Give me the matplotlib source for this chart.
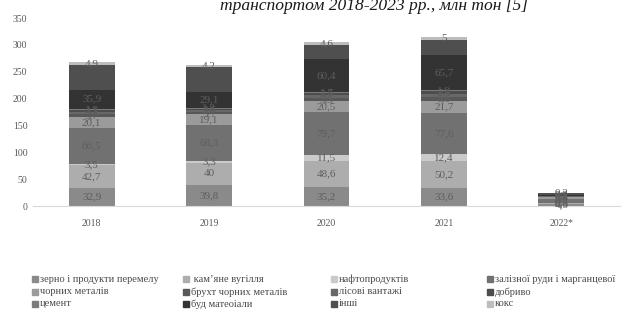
import matplotlib
matplotlib.use("Agg")
import matplotlib.pyplot as plt
from matplotlib.patches import Rectangle

plt.rcParams['font.family'] = ['Liberation Serif', 'DejaVu Serif']

years = ['2018', '2019', '2020', '2021', '2022*']

cargo = ['зерно і продукти перемелу', ' кам\u02bcяне вугілля', 'нафтопродуктів',
         'залізної руди і марганцевої', 'чорних металів', 'брухт чорних металів',
         'лісові вантажі', 'добриво', 'цемент', 'буд матеоіали', 'інші', 'кокс']

grain = [32.9, 39.8, 35.2, 33.6, 4.5]
coal = [42.7, 40, 48.6, 50.2, 0.6]
oil = [3.5, 3.3, 11.5, 12.4, 0.5]
ore = [66.5, 68.3, 79.7, 77.6, 8.2]
metals = [20.1, 19.1, 20.5, 21.7, 2.4]
scrap = [5.7, 3.7, 5.3, 6.6, 1.1]
timber = [3.4, 4.4, 6.4, 6.2, 0.4]
fertil = [4.1, 2.6, 3.6, 5.8, 1.0]
cement = [1.9, 1.8, 1.7, 1.9, 0.5]
build = [35.9, 29.1, 60.4, 65.7, 2.2]
other = [46.0, 47.0, 27.0, 28.0, 3.4]
coke = [4.9, 4.2, 4.6, 5, 0.3]

series = [grain, coal, oil, ore, metals, scrap, timber, fertil, cement, build, other, coke]
colors = ['#8a8a8a', '#adadad', '#cacaca', '#717171', '#9b9b9b', '#585858',
          '#686868', '#4d4d4d', '#7b7b7b', '#333333', '#4f4f4f', '#bdbdbd']

fig = plt.figure(figsize=(6.32, 3.13), dpi=100)
W, H = 632, 313
ax = fig.add_axes([33 / W, 1 - 206 / H, (620 - 33) / W, (206 - 18) / H])

x = list(range(len(years)))
bottom = [0] * len(years)
for k, (vals, col) in enumerate(zip(series, colors)):
    ax.bar(x, vals, bottom=bottom, width=0.39, color=col, edgecolor='none')
    if cargo[k] != 'інші':
        for i, v in enumerate(vals):
            lab = f"{v:g}".replace('.', ',')
            ax.text(i, bottom[i] + v / 2, lab, ha='center', va='center',
                    fontsize=8, color='#5e5e5e')
    bottom = [b + v for b, v in zip(bottom, vals)]

ax.set_xlim(-0.5, 4.5)
ax.set_ylim(0, 350)
ax.set_yticks(range(0, 351, 50))
ax.set_xticks(x)
ax.set_xticklabels(years)
ax.tick_params(axis='both', length=0, labelsize=7, colors='#595959')
ax.tick_params(axis='x', pad=9)
ax.tick_params(axis='y', pad=4)
for s in ['top', 'right', 'left']:
    ax.spines[s].set_visible(False)
ax.spines['bottom'].set_color('#d9d9d9')

# title, cut by the top edge like in the source page
fig.text(374 / W, 1 - 10 / H, 'транспортом 2018-2023 рр., млн тон [5]',
         ha='center', va='baseline', fontsize=12.6, style='italic', color='#1a1a1a')

# legend, row by row
col_x = [32, 183, 331, 487]
row_y = [279, 292, 304]
for k, name in enumerate(cargo):
    r, c = divmod(k, 4)
    fig.patches.append(Rectangle((col_x[c] / W, 1 - (row_y[r] + 3) / H), 6 / W, 6 / H,
                                 transform=fig.transFigure, color=colors[k]))
    fig.text((col_x[c] + 8) / W, 1 - row_y[r] / H, name, ha='left', va='center',
             fontsize=7.5, color='#4a4a4a')

fig.savefig('out.png', dpi=100)
